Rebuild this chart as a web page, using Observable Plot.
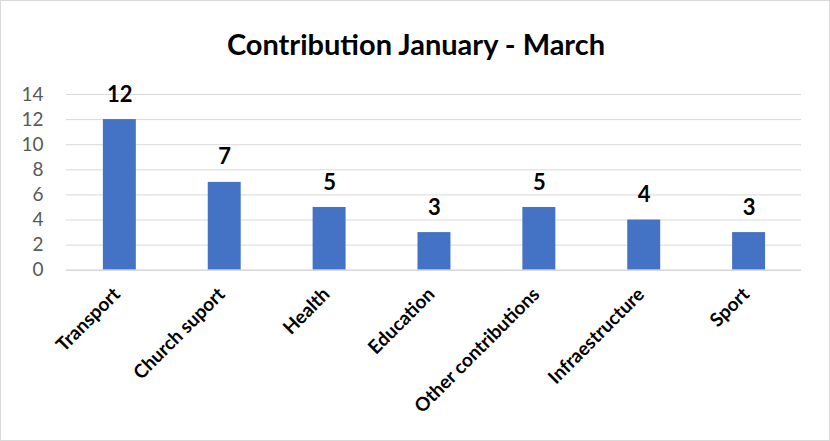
<!DOCTYPE html>
<html>
<head>
<meta charset="utf-8">
<script src="https://cdn.jsdelivr.net/npm/d3@7"></script>
<script src="https://cdn.jsdelivr.net/npm/@observablehq/plot@0.6"></script>
<style>
  html, body { margin: 0; padding: 0; background: #fff; }
  #chart { width: 830px; height: 441px; box-sizing: border-box; border: 1px solid #d9d9d9; position: relative; overflow: hidden; font-family: Lato, "Open Sans", sans-serif; }
  #title { position: absolute; left: 0; top: 26px; width: 830px; text-align: center; font-weight: bold; font-size: 29px; color: #000; line-height: 34px; }
  #plot { position: absolute; left: -1px; top: 69px; }
</style>
</head>
<body>
<div id="chart">
  <div id="title">Contribution January - March</div>
  <div id="plot"></div>
</div>
<script>
const categories = ["Transport", "Church suport", "Health", "Education", "Other contributions", "Infraestructure", "Sport"];
const values = [12, 7, 5, 3, 5, 4, 3];
const yTicks = [0, 2, 4, 6, 8, 10, 12, 14];

const data = categories.map((c, i) => ({category: c, value: values[i]}));

const chart = Plot.plot({
  width: 830,
  height: 372,
  marginLeft: 66,
  marginRight: 28,
  marginTop: 24,
  marginBottom: 172,
  style: {fontFamily: "Lato, 'Open Sans', sans-serif", background: "transparent"},
  x: {domain: categories, padding: 0, label: null},
  y: {domain: [0, 14], ticks: yTicks, label: null},
  marks: [
    Plot.gridY(yTicks, {stroke: "#d9d9d9", strokeOpacity: 1, strokeWidth: 1}),
    Plot.axisY({ticks: yTicks, tickSize: 0, tickPadding: 23, fontSize: 19, fill: "#595959", label: null}),
    Plot.barY(data, {x: "category", y: "value", fill: "#4472c4", insetLeft: 36, insetRight: 36}),
    Plot.ruleY([0], {stroke: "#d9d9d9", strokeWidth: 1.5}),
    Plot.text(data, {x: "category", y: "value", text: d => String(d.value), dy: -25, fontSize: 22, fontWeight: "bold", fill: "#000"}),
    Plot.axisX({tickSize: 0, tickPadding: 16, tickRotate: -45, dx: -3, dy: 5, fontSize: 19, fontWeight: "bold", fill: "#000", label: null})
  ]
});
document.getElementById("plot").appendChild(chart);
</script>
</body>
</html>
